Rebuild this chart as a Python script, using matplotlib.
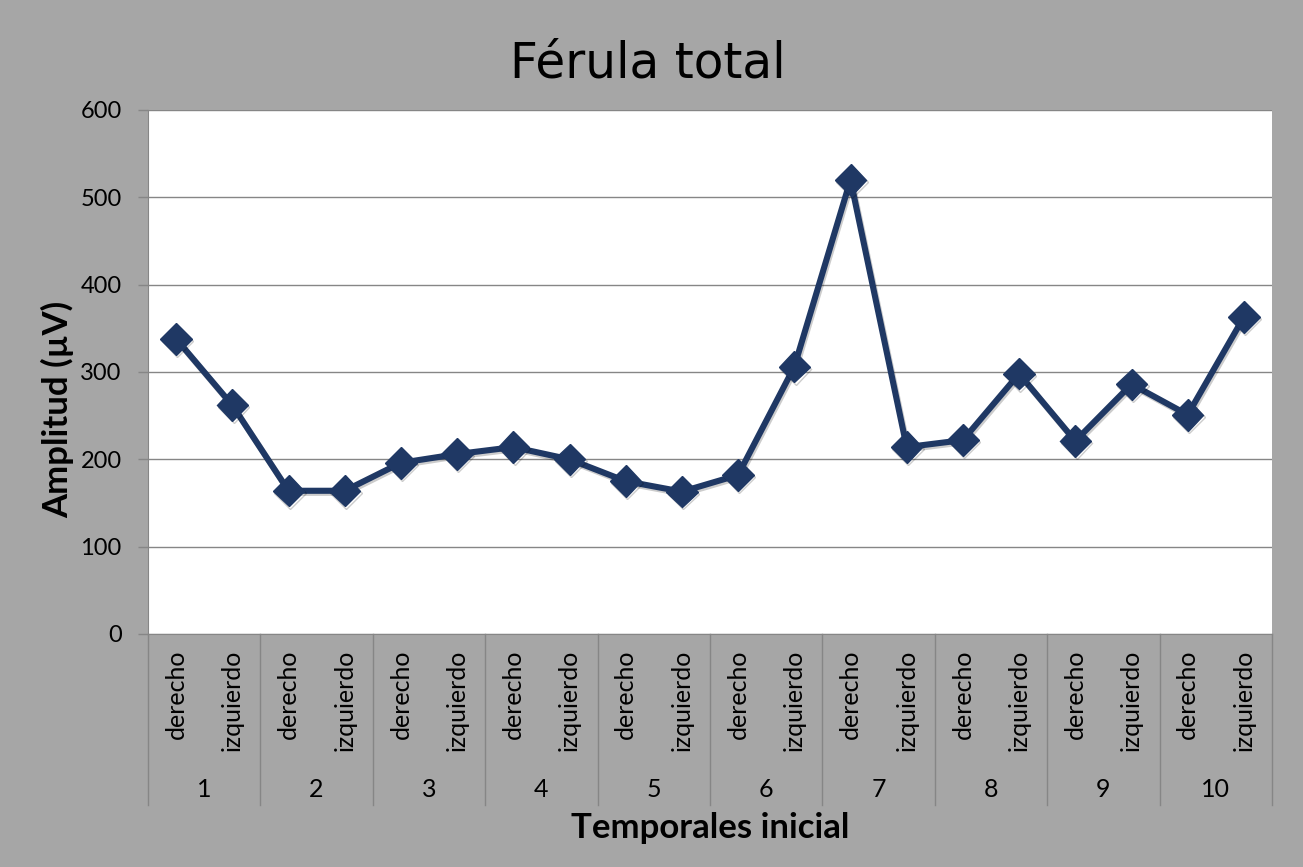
import matplotlib
matplotlib.use("Agg")
import matplotlib.pyplot as plt
import matplotlib.patheffects as pe

groups = ["1", "2", "3", "4", "5", "6", "7", "8", "9", "10"]
sides = ["derecho", "izquierdo"]
values = [338, 262, 164, 164, 196, 206, 214, 200, 175, 163,
          182, 306, 520, 214, 222, 298, 221, 286, 251, 363]
yticks = [0, 100, 200, 300, 400, 500, 600]

title = "Férula total"
xlabel = "Temporales inicial"
ylabel = "Amplitud (µV)"

BG = "#a6a6a6"
LINE = "#1f3864"
FONT = ["Lato", "DejaVu Sans"]

fig = plt.figure(figsize=(13.03, 8.67), dpi=100, facecolor=BG)
ax = fig.add_axes([148/1303, 1-634/867, (1272-148)/1303, (634-110)/867])
ax.set_facecolor("white")

n = len(values)
xs = list(range(n))
ax.plot(xs, values, color=LINE, lw=4.4, marker="D", markersize=16,
        markerfacecolor=LINE, markeredgecolor=LINE, zorder=3,
        path_effects=[pe.SimpleLineShadow(offset=(1.0, -1.5), shadow_color="black", alpha=0.2, rho=0.3),
                      pe.Normal()])

ax.set_xlim(-0.5, n - 0.5)
ax.set_ylim(0, 600)
ax.set_yticks(yticks)
ax.set_yticklabels([str(v) for v in yticks], fontsize=17, family=FONT)
ax.yaxis.grid(True, color="#868686", lw=1)
ax.set_axisbelow(True)
ax.tick_params(axis="y", length=7, color="#868686", width=1, pad=12)
ax.set_xticks([])
for s in ["top", "right"]:
    ax.spines[s].set_visible(False)
ax.spines["left"].set_color("#868686")
ax.spines["bottom"].set_color("#868686")

# category labels (two-level)
trans = ax.get_xaxis_transform()
for i in range(n):
    ax.text(i, -0.03, sides[i % 2], rotation=90, ha="center", va="top",
            fontsize=18, family=FONT, transform=trans, clip_on=False)
for g, lab in enumerate(groups):
    ax.text(2*g + 0.5, -0.296, lab, ha="center", va="center", fontsize=18,
            family=FONT, transform=trans, clip_on=False)
for g in range(len(groups) + 1):
    ax.plot([2*g - 0.5, 2*g - 0.5], [0, -(805-634)/524], color="#868686", lw=1,
            transform=trans, clip_on=False)

fig.text((148+1272)/2/1303, 1-828/867, xlabel, ha="center", va="center",
         fontsize=25, fontweight="bold", family=FONT)
fig.text(58/1303, 1-409/867, ylabel, ha="center", va="center", rotation=90,
         fontsize=25, fontweight="bold", family=FONT)
fig.text(648/1303, 1-64/867, title, ha="center", va="center", fontsize=35,
         family=["DejaVu Sans"])

fig.savefig("out.png", dpi=100, facecolor=BG)
